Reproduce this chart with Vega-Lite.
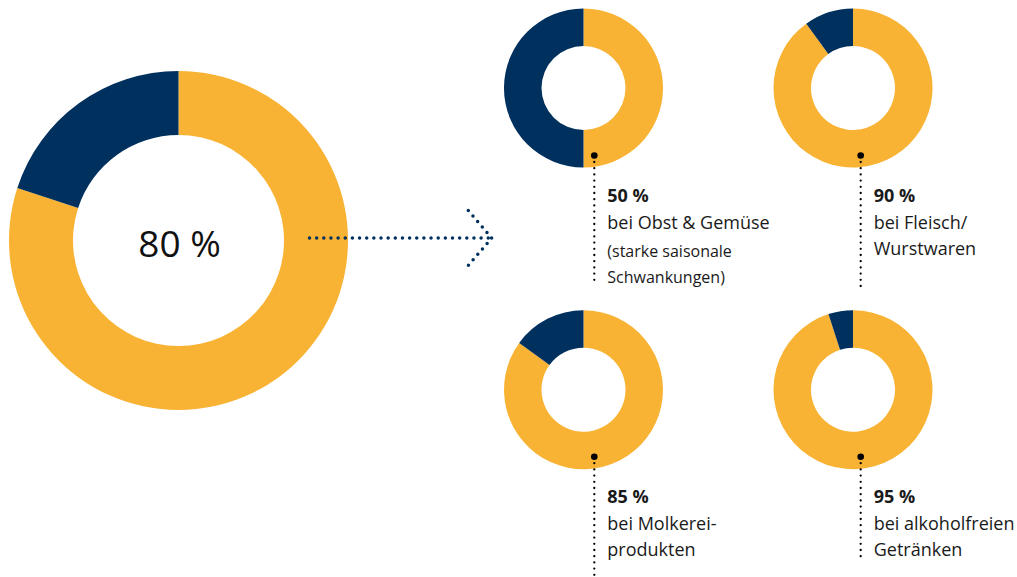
{
  "$schema": "https://vega.github.io/schema/vega-lite/v6.json",
  "width": 1017,
  "height": 577,
  "padding": 0,
  "autosize": {"type": "none"},
  "background": "white",
  "config": {
    "view": {"stroke": null},
    "font": "Open Sans",
    "text": {"font": "Open Sans", "color": "#1a1a1a"},
    "locale": {"number": {"decimal": ",", "thousands": ".", "grouping": [3], "currency": ["", " €"], "percent": " %"}}
  },
  "datasets": {
    "anteile": [
      {"Kategorie": "Gesamt", "Spalte": "Gesamt", "Zeile": "Mitte", "Teil": "Anteil", "Wert": 0.80},
      {"Kategorie": "Gesamt", "Spalte": "Gesamt", "Zeile": "Mitte", "Teil": "Rest", "Wert": 0.20},
      {"Kategorie": "Obst & Gemüse", "Spalte": "links", "Zeile": "oben", "Teil": "Anteil", "Wert": 0.50},
      {"Kategorie": "Obst & Gemüse", "Spalte": "links", "Zeile": "oben", "Teil": "Rest", "Wert": 0.50},
      {"Kategorie": "Fleisch/Wurstwaren", "Spalte": "rechts", "Zeile": "oben", "Teil": "Anteil", "Wert": 0.90},
      {"Kategorie": "Fleisch/Wurstwaren", "Spalte": "rechts", "Zeile": "oben", "Teil": "Rest", "Wert": 0.10},
      {"Kategorie": "Molkereiprodukte", "Spalte": "links", "Zeile": "unten", "Teil": "Anteil", "Wert": 0.85},
      {"Kategorie": "Molkereiprodukte", "Spalte": "links", "Zeile": "unten", "Teil": "Rest", "Wert": 0.15},
      {"Kategorie": "alkoholfreie Getränke", "Spalte": "rechts", "Zeile": "unten", "Teil": "Anteil", "Wert": 0.95},
      {"Kategorie": "alkoholfreie Getränke", "Spalte": "rechts", "Zeile": "unten", "Teil": "Rest", "Wert": 0.05}
    ],
    "texte": [
      {"Kategorie": "Obst & Gemüse", "Text": "bei Obst & Gemüse", "Zusatz": "(starke saisonale\nSchwankungen)"},
      {"Kategorie": "Fleisch/Wurstwaren", "Text": "bei Fleisch/\nWurstwaren", "Zusatz": ""},
      {"Kategorie": "Molkereiprodukte", "Text": "bei Molkerei-\nprodukten", "Zusatz": ""},
      {"Kategorie": "alkoholfreie Getränke", "Text": "bei alkoholfreien\nGetränken", "Zusatz": ""}
    ]
  },
  "resolve": {"scale": {"x": "independent", "y": "independent"}},
  "layer": [
    {
      "data": {"name": "anteile"},
      "transform": [
        {"filter": "datum.Kategorie === 'Gesamt'"},
        {"stack": "Wert", "groupby": ["Kategorie"], "sort": [{"field": "Teil", "order": "ascending"}], "as": ["t0", "t1"]}
      ],
      "encoding": {
        "x": {"field": "Spalte", "type": "nominal", "axis": null, "scale": {"type": "point", "domain": ["Gesamt"], "range": [178.5, 178.5], "padding": 0}},
        "y": {"field": "Zeile", "type": "nominal", "axis": null, "scale": {"type": "point", "domain": ["Mitte"], "range": [240.5, 240.5], "padding": 0}}
      },
      "layer": [
        {
          "mark": {"type": "arc", "radius": 169.5, "radius2": 105.5},
          "encoding": {
            "theta": {"field": "t0", "type": "quantitative", "scale": {"domain": [0, 1]}, "stack": null},
            "theta2": {"field": "t1"},
            "color": {"field": "Teil", "type": "nominal", "legend": null, "scale": {"domain": ["Anteil", "Rest"], "range": ["#F8B334", "#00305E"]}}
          }
        },
        {
          "transform": [{"filter": "datum.Teil === 'Anteil'"}],
          "mark": {"type": "text", "fontSize": 37, "align": "center", "baseline": "alphabetic", "dx": 1, "dy": 16, "color": "#111111"},
          "encoding": {"text": {"field": "Wert", "type": "quantitative", "format": ".0%"}}
        },
        {
          "transform": [{"filter": "datum.Teil === 'Anteil'"}],
          "mark": {"type": "rule", "color": "#00305E", "strokeWidth": 3.5, "strokeDash": [0, 7.15], "strokeCap": "round", "xOffset": 131, "x2Offset": 313, "yOffset": -2.5},
          "encoding": {"x2": {"field": "Spalte"}}
        },
        {
          "transform": [{"filter": "datum.Teil === 'Anteil'"}],
          "mark": {"type": "point", "shape": "M-0.851,-1L0,0L-0.851,1", "size": 3025, "filled": false, "fill": null, "stroke": "#00305E", "strokeWidth": 3.5, "strokeDash": [0, 7.2], "strokeCap": "round", "opacity": 1, "xOffset": 313.2, "yOffset": -2.5}
        }
      ]
    },
    {
      "data": {"name": "anteile"},
      "transform": [
        {"filter": "datum.Kategorie !== 'Gesamt'"},
        {"stack": "Wert", "groupby": ["Kategorie"], "sort": [{"field": "Teil", "order": "ascending"}], "as": ["t0", "t1"]}
      ],
      "mark": {"type": "arc", "radius": 79.5, "radius2": 42},
      "encoding": {
        "x": {"field": "Spalte", "type": "nominal", "axis": null, "scale": {"type": "point", "domain": ["links", "rechts"], "range": [583.5, 853], "padding": 0}},
        "y": {"field": "Zeile", "type": "nominal", "axis": null, "scale": {"type": "point", "domain": ["oben", "unten"], "range": [88, 389.7], "padding": 0}},
        "theta": {"field": "t0", "type": "quantitative", "scale": {"domain": [0, 1]}, "stack": null},
        "theta2": {"field": "t1"},
        "color": {"field": "Teil", "type": "nominal", "legend": null, "scale": {"domain": ["Anteil", "Rest"], "range": ["#F8B334", "#00305E"]}}
      }
    },
    {
      "data": {"name": "anteile"},
      "transform": [
        {"filter": "datum.Kategorie !== 'Gesamt' && datum.Teil === 'Anteil'"},
        {"lookup": "Kategorie", "from": {"data": {"name": "texte"}, "key": "Kategorie", "fields": ["Text", "Zusatz"]}}
      ],
      "encoding": {
        "x": {"field": "Spalte", "type": "nominal", "axis": null, "scale": {"type": "point", "domain": ["links", "rechts"], "range": [594.3, 860.7], "padding": 0}},
        "y": {"field": "Zeile", "type": "nominal", "axis": null, "scale": {"type": "point", "domain": ["oben", "unten"], "range": [155.5, 456.7], "padding": 0}}
      },
      "layer": [
        {
          "transform": [{"filter": "datum.Spalte === 'links'"}],
          "mark": {"type": "rule", "color": "#000000", "strokeWidth": 2.3, "strokeDash": [0, 6.2], "strokeCap": "round", "yOffset": 6.5, "y2Offset": 128},
          "encoding": {"y2": {"field": "Zeile"}}
        },
        {
          "transform": [{"filter": "datum.Kategorie === 'Fleisch/Wurstwaren'"}],
          "mark": {"type": "rule", "color": "#000000", "strokeWidth": 2.3, "strokeDash": [0, 6.2], "strokeCap": "round", "yOffset": 6.5, "y2Offset": 136.5},
          "encoding": {"y2": {"field": "Zeile"}}
        },
        {
          "transform": [{"filter": "datum.Kategorie === 'alkoholfreie Getränke'"}],
          "mark": {"type": "rule", "color": "#000000", "strokeWidth": 2.3, "strokeDash": [0, 6.2], "strokeCap": "round", "yOffset": 6.5, "y2Offset": 105},
          "encoding": {"y2": {"field": "Zeile"}}
        },
        {
          "mark": {"type": "circle", "size": 44, "color": "#000000", "opacity": 1}
        },
        {
          "mark": {"type": "text", "fontSize": 18, "fontWeight": "bold", "align": "left", "baseline": "alphabetic", "dx": 13, "dy": 46},
          "encoding": {"text": {"field": "Wert", "type": "quantitative", "format": ".0%"}}
        },
        {
          "mark": {"type": "text", "fontSize": 18, "align": "left", "baseline": "alphabetic", "lineBreak": "\n", "lineHeight": 26, "dx": 13, "dy": 73.5},
          "encoding": {"text": {"field": "Text", "type": "nominal"}}
        },
        {
          "mark": {"type": "text", "fontSize": 16, "align": "left", "baseline": "alphabetic", "lineBreak": "\n", "lineHeight": 26.6, "dx": 13, "dy": 101},
          "encoding": {"text": {"field": "Zusatz", "type": "nominal"}}
        }
      ]
    }
  ]
}
